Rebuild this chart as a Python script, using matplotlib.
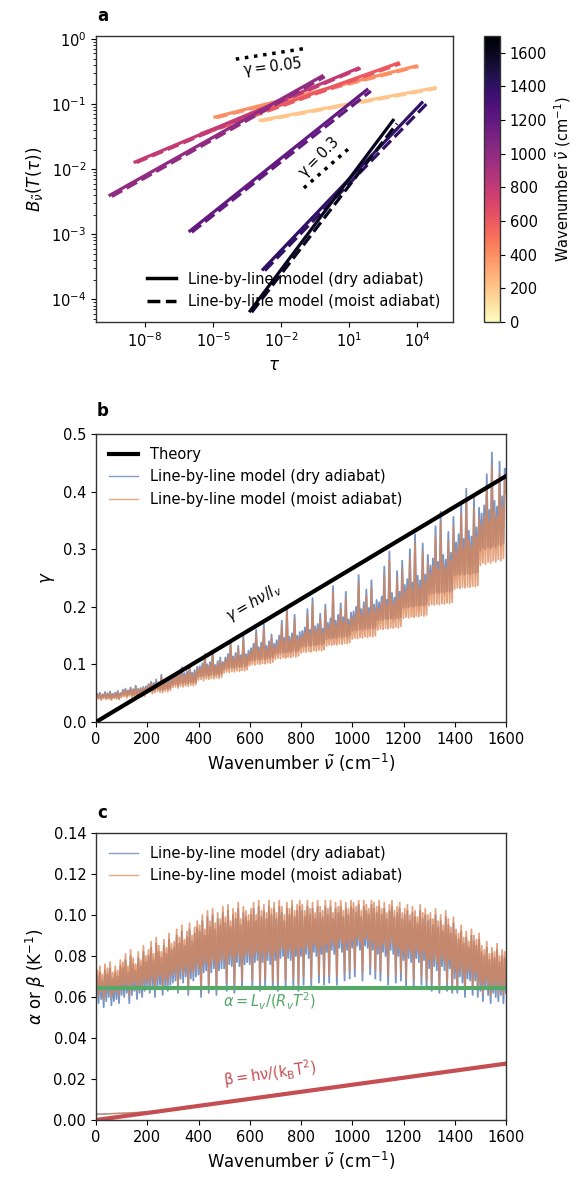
import numpy as np
import matplotlib
matplotlib.use('Agg')
import matplotlib.pyplot as plt
from matplotlib import colors, cm
from matplotlib.lines import Line2D
from matplotlib.ticker import NullLocator, LogLocator

# ---- panel a: B(T(tau)) for a few wavenumbers (log10 values, start / end)
nu_lines = [200, 400, 600, 800, 1000, 1200, 1400, 1600]
dry_logtau = [[-2.93, 4.78], [-4.92, 3.94], [-5.5, 3.15], [-8.44, 1.38],
              [-9.54, -0.2], [-6.02, 1.78], [-2.8, 4.2], [-3.37, 2.93]]
dry_logB = [[-1.25, -0.75], [-1.2, -0.415], [-1.45, -0.37], [-1.89, -0.45],
            [-2.4, -0.57], [-2.95, -0.78], [-3.54, -0.98], [-4.18, -1.25]]
moist_logtau = [[-2.88, 4.85], [-4.86, 4.05], [-5.42, 3.25], [-8.38, 1.5],
                [-9.46, -0.08], [-5.94, 1.95], [-2.72, 4.4], [-3.3, 3.1]]
moist_logB = [[-1.26, -0.76], [-1.21, -0.42], [-1.46, -0.38], [-1.9, -0.45],
              [-2.42, -0.58], [-2.97, -0.8], [-3.56, -1.0], [-4.2, -1.3]]
ref005_logtau = [-4.0, -1.04]
ref005_logB = [-0.31, -0.15]
ref03_logtau = [-1.0, 0.99]
ref03_logB = [-2.29, -1.68]

# ---- panels b, c: spectra every 5 cm-1 (values in thousandths)
nu = np.arange(0, 1601, 5)
gamma_dry = [
    41, 49, 42, 51, 40, 48, 43, 52, 41, 50, 42, 53, 40, 49, 43, 51, 42, 54, 41, 50,
    46, 56, 47, 58, 45, 55, 48, 60, 46, 57, 47, 63, 46, 58, 48, 59, 47, 61, 48, 62,
    54, 66, 56, 70, 53, 68, 55, 74, 57, 69, 56, 82, 55, 71, 58, 76, 57, 72, 59, 80,
    65, 82, 66, 86, 64, 84, 67, 95, 66, 85, 68, 88, 67, 98, 69, 86, 68, 90, 70, 96,
    79, 97, 80, 102, 78, 118, 81, 100, 80, 104, 82, 124, 81, 99, 83, 106, 82, 112, 84, 104,
    92, 112, 94, 118, 93, 140, 95, 114, 94, 120, 96, 132, 95, 116, 97, 150, 96, 118, 98, 124,
    106, 128, 108, 136, 107, 160, 109, 130, 108, 138, 110, 170, 109, 132, 111, 140, 110, 152, 112, 136,
    118, 142, 120, 150, 119, 176, 121, 146, 120, 200, 122, 148, 121, 154, 123, 186, 122, 150, 124, 156,
    130, 158, 132, 164, 131, 196, 133, 160, 132, 215, 134, 166, 133, 170, 135, 188, 134, 162, 136, 204,
    144, 172, 146, 180, 145, 236, 147, 176, 146, 186, 148, 206, 147, 182, 149, 226, 148, 178, 150, 190,
    158, 192, 160, 200, 159, 255, 161, 196, 160, 208, 162, 230, 161, 198, 163, 246, 162, 204, 164, 212,
    176, 208, 178, 218, 177, 270, 179, 212, 178, 296, 180, 224, 179, 216, 181, 262, 180, 226, 182, 280,
    198, 238, 200, 248, 199, 300, 201, 242, 200, 326, 202, 254, 201, 246, 203, 310, 202, 256, 204, 290,
    222, 272, 224, 284, 223, 340, 225, 278, 224, 365, 226, 290, 225, 282, 227, 330, 226, 294, 228, 356,
    254, 312, 256, 326, 255, 380, 257, 318, 256, 405, 258, 332, 257, 322, 259, 390, 258, 338, 260, 372,
    298, 362, 302, 376, 300, 430, 304, 368, 302, 468, 306, 384, 304, 374, 308, 452, 306, 392, 310, 440,
    420]
gamma_moist = [
    39, 47, 40, 49, 38, 46, 41, 50, 39, 48, 40, 51, 38, 47, 41, 49, 40, 52, 39, 48,
    43, 54, 44, 56, 42, 53, 45, 58, 43, 55, 44, 60, 43, 56, 45, 57, 44, 59, 45, 60,
    50, 63, 52, 67, 49, 65, 51, 71, 53, 66, 52, 78, 51, 68, 54, 73, 53, 69, 55, 77,
    60, 78, 61, 82, 59, 80, 62, 91, 61, 81, 63, 84, 62, 94, 64, 82, 63, 86, 65, 92,
    73, 93, 74, 98, 72, 113, 75, 96, 74, 100, 76, 119, 75, 95, 77, 102, 76, 107, 78, 100,
    85, 107, 87, 113, 86, 134, 88, 109, 87, 115, 89, 127, 88, 111, 90, 144, 89, 113, 91, 119,
    98, 122, 100, 130, 99, 153, 101, 124, 100, 132, 102, 163, 101, 126, 103, 134, 102, 145, 104, 130,
    109, 135, 111, 143, 110, 168, 112, 139, 111, 191, 113, 141, 112, 147, 114, 178, 113, 143, 115, 149,
    120, 150, 122, 156, 121, 187, 123, 152, 122, 205, 124, 158, 123, 162, 125, 179, 124, 154, 126, 195,
    132, 163, 134, 171, 133, 225, 135, 167, 134, 177, 136, 196, 135, 173, 137, 215, 136, 169, 138, 181,
    144, 182, 146, 190, 145, 242, 147, 186, 146, 198, 148, 219, 147, 188, 149, 234, 148, 194, 150, 202,
    160, 197, 162, 207, 161, 256, 163, 201, 162, 281, 164, 213, 163, 205, 165, 249, 164, 215, 166, 266,
    180, 225, 182, 235, 181, 285, 183, 229, 182, 310, 184, 241, 183, 233, 185, 295, 184, 243, 186, 276,
    202, 258, 204, 270, 203, 323, 205, 264, 204, 347, 206, 276, 205, 268, 207, 314, 206, 280, 208, 339,
    231, 296, 233, 310, 232, 361, 234, 302, 233, 385, 235, 316, 234, 306, 236, 371, 235, 322, 237, 354,
    272, 344, 276, 358, 274, 409, 278, 350, 276, 445, 280, 366, 278, 356, 282, 430, 280, 374, 284, 418,
    398]
ab_dry = [
    58, 70, 57, 72, 59, 68, 55, 73, 58, 71, 60, 74, 56, 69, 58, 72, 59, 70, 57, 75,
    61, 74, 60, 78, 62, 72, 57, 80, 61, 76, 63, 73, 59, 79, 62, 75, 60, 82, 63, 77,
    64, 80, 62, 84, 65, 78, 60, 86, 64, 82, 66, 79, 61, 85, 65, 81, 63, 88, 66, 83,
    67, 84, 68, 90, 62, 86, 69, 92, 67, 85, 70, 89, 61, 93, 69, 87, 68, 91, 70, 94,
    71, 92, 60, 97, 72, 90, 73, 99, 62, 94, 72, 100, 74, 93, 61, 98, 73, 95, 74, 101,
    74, 96, 63, 102, 76, 94, 75, 100, 62, 98, 77, 103, 75, 95, 64, 101, 76, 99, 77, 97,
    76, 100, 64, 103, 77, 97, 78, 104, 63, 99, 77, 102, 65, 98, 78, 104, 76, 100, 64, 103,
    78, 98, 63, 104, 79, 101, 80, 97, 64, 103, 79, 100, 78, 104, 65, 99, 80, 102, 63, 104,
    80, 102, 66, 99, 81, 104, 79, 100, 65, 103, 82, 98, 80, 104, 67, 101, 81, 99, 66, 104,
    82, 100, 67, 104, 83, 98, 81, 103, 66, 101, 84, 104, 82, 99, 68, 103, 83, 100, 69, 104,
    84, 103, 70, 101, 85, 105, 83, 99, 68, 104, 85, 102, 84, 100, 71, 105, 83, 103, 69, 101,
    81, 104, 68, 100, 82, 103, 80, 98, 66, 102, 83, 104, 81, 99, 67, 101, 80, 103, 68, 98,
    78, 100, 65, 102, 79, 97, 77, 101, 64, 99, 79, 96, 77, 102, 66, 98, 78, 100, 64, 97,
    74, 98, 63, 95, 75, 100, 73, 94, 62, 97, 75, 92, 73, 99, 63, 95, 74, 91, 62, 96,
    69, 90, 62, 88, 70, 92, 67, 86, 60, 89, 69, 84, 68, 90, 61, 87, 68, 85, 60, 88,
    63, 82, 58, 80, 64, 84, 61, 78, 57, 81, 62, 79, 60, 83, 58, 77, 61, 80, 57, 79,
    62]
ab_moist = [
    62, 73, 61, 75, 63, 71, 59, 76, 62, 74, 64, 77, 60, 72, 62, 75, 63, 73, 61, 78,
    65, 77, 64, 81, 66, 75, 61, 83, 65, 79, 67, 76, 63, 82, 66, 78, 64, 85, 67, 80,
    68, 83, 66, 87, 69, 81, 64, 89, 68, 85, 70, 82, 65, 88, 69, 84, 67, 91, 70, 86,
    71, 87, 72, 93, 66, 89, 73, 95, 71, 88, 74, 92, 65, 96, 73, 90, 72, 94, 74, 97,
    75, 95, 64, 100, 76, 93, 77, 102, 66, 97, 76, 103, 78, 96, 65, 101, 77, 98, 78, 104,
    78, 99, 67, 105, 80, 97, 79, 103, 66, 101, 81, 106, 79, 98, 68, 104, 80, 102, 81, 100,
    80, 103, 68, 106, 81, 100, 82, 107, 67, 102, 81, 105, 69, 101, 82, 107, 80, 103, 68, 106,
    82, 101, 67, 107, 83, 104, 84, 100, 68, 106, 83, 103, 82, 107, 69, 102, 84, 105, 67, 107,
    84, 105, 70, 102, 85, 107, 83, 103, 69, 106, 86, 101, 84, 107, 71, 104, 85, 102, 70, 107,
    86, 103, 71, 107, 87, 101, 85, 106, 70, 104, 88, 107, 86, 102, 72, 106, 87, 103, 73, 107,
    88, 106, 74, 104, 89, 107, 87, 102, 72, 107, 89, 105, 88, 103, 75, 107, 87, 106, 73, 104,
    85, 107, 72, 103, 86, 106, 84, 101, 70, 105, 87, 107, 85, 102, 71, 104, 84, 106, 72, 101,
    82, 103, 69, 105, 83, 100, 81, 104, 68, 102, 83, 99, 81, 105, 70, 101, 82, 103, 68, 100,
    78, 101, 67, 98, 79, 103, 77, 97, 66, 100, 79, 95, 77, 102, 67, 98, 78, 94, 66, 99,
    73, 93, 66, 91, 74, 95, 71, 89, 64, 92, 73, 87, 72, 93, 65, 90, 72, 88, 64, 91,
    67, 85, 62, 83, 68, 87, 65, 81, 61, 84, 66, 82, 64, 86, 62, 80, 65, 83, 61, 82,
    66]
theory_nu = [0, 1600]
gamma_theory = [0.0, 0.427]
alpha_theory = [0.0643, 0.0643]
beta_theory = [0.0, 0.0275]
beta_lbl_nu = [0, 100, 200, 300, 400, 1600]
beta_lbl = [0.0028, 0.0033, 0.0039, 0.0052, 0.0069, 0.0275]

blue = '#4c72b0'
orange = '#dd8452'
green = '#55a868'
red = '#c44e52'
lbl_dry = 'Line-by-line model (dry adiabat)'
lbl_moist = 'Line-by-line model (moist adiabat)'

plt.rcParams['font.family'] = 'DejaVu Sans'
plt.rcParams['font.size'] = 10.5
plt.rcParams['axes.labelsize'] = 12
plt.rcParams['axes.edgecolor'] = '.2'
plt.rcParams['axes.linewidth'] = 1.0
plt.rcParams['mathtext.fontset'] = 'dejavusans'

fig = plt.figure(figsize=(5.83, 11.77), dpi=100)
W, H = 583.0, 1177.0

def box(l, t, r, b):
    return [l / W, 1 - b / H, (r - l) / W, (b - t) / H]

# ---------------- a
ax = fig.add_axes(box(96, 36, 453, 322))
cmap = plt.get_cmap('magma_r')
norm = colors.Normalize(0, 1700)
for i, n in enumerate(nu_lines):
    c = cmap(norm(n))
    ax.plot(10 ** np.array(dry_logtau[i]), 10 ** np.array(dry_logB[i]),
            color=c, lw=2.3)
    ax.plot(10 ** np.array(moist_logtau[i]), 10 ** np.array(moist_logB[i]),
            color=c, lw=2.3, ls='--')
ax.plot(10 ** np.array(ref005_logtau), 10 ** np.array(ref005_logB), 'k:', lw=2.5)
ax.plot(10 ** np.array(ref03_logtau), 10 ** np.array(ref03_logB), 'k:', lw=2.5)
ax.text(10 ** -2.4, 10 ** -0.43, r'$\mathregular{\gamma = 0.05}$', rotation=7,
        ha='center', va='center')
ax.text(10 ** -0.33, 10 ** -1.82, r'$\mathregular{\gamma = 0.3}$', rotation=45,
        ha='center', va='center')
ax.set_xscale('log')
ax.set_yscale('log')
ax.set_xlim(10 ** -10.16, 10 ** 5.57)
ax.set_ylim(10 ** -4.35, 10 ** 0.046)
ax.set_xticks([1e-8, 1e-5, 1e-2, 1e1, 1e4])
ax.xaxis.set_minor_locator(NullLocator())
ax.yaxis.set_minor_locator(LogLocator(subs=np.arange(2, 10)))
ax.set_xlabel(r'$\tau$')
ax.set_ylabel(r'$B_{\tilde{\nu}}(T(\tau))$')
hl = [Line2D([], [], color='k', lw=2.5), Line2D([], [], color='k', lw=2.5, ls='--')]
ax.legend(hl, [lbl_dry, lbl_moist], loc='lower right', frameon=False)

cax = fig.add_axes(box(484, 36, 500, 322))
cb = fig.colorbar(cm.ScalarMappable(norm=norm, cmap=cmap), cax=cax)
cb.set_ticks(range(0, 1700, 200))
cb.set_label(r'Wavenumber $\tilde{\nu}$ (cm$^{-1}$)', fontsize=10.5)

# ---------------- b
ax = fig.add_axes(box(96, 434, 506, 722))
ax.plot(theory_nu, gamma_theory, color='k', lw=3, zorder=5)
ax.plot(nu, np.array(gamma_dry) / 1000, color=blue, lw=1.3, alpha=0.75)
ax.plot(nu, np.array(gamma_moist) / 1000, color=orange, lw=1.3, alpha=0.75)
ax.text(617, 0.208, r'$\gamma = h\nu/l_v$', rotation=30, ha='center', va='center')
ax.set_xlim(0, 1600)
ax.set_ylim(0, 0.5)
ax.set_xticks(range(0, 1601, 200))
ax.set_xlabel(r'Wavenumber $\tilde{\nu}$ (cm$^{-1}$)')
ax.set_ylabel(r'$\gamma$')
hb = [Line2D([], [], color='k', lw=3),
      Line2D([], [], color=blue, lw=1, alpha=0.7),
      Line2D([], [], color=orange, lw=1, alpha=0.7)]
ax.legend(hb, ['Theory', lbl_dry, lbl_moist], loc='upper left', frameon=False)

# ---------------- c
ax = fig.add_axes(box(96, 833, 506, 1120))
ax.plot(nu, np.array(ab_dry) / 1000, color=blue, lw=1.3, alpha=0.75)
ax.plot(nu, np.array(ab_moist) / 1000, color=orange, lw=1.3, alpha=0.75)
ax.plot(theory_nu, alpha_theory, color=green, lw=3)
ax.plot(beta_lbl_nu, beta_lbl, color=blue, lw=1, alpha=0.7)
ax.plot(beta_lbl_nu, beta_lbl, color=orange, lw=1, alpha=0.7)
ax.plot(theory_nu, beta_theory, color=red, lw=3)
ax.text(679, 0.0578, r'$\alpha = L_v/(R_vT^2)$', color=green, ha='center', va='center')
ax.text(679, 0.0225, r'$\mathregular{\beta = h\nu/(k_BT^2)}$', color=red, rotation=8,
        ha='center', va='center')
ax.set_xlim(0, 1600)
ax.set_ylim(0, 0.14)
ax.set_xticks(range(0, 1601, 200))
ax.set_yticks(np.arange(0, 0.141, 0.02))
ax.set_xlabel(r'Wavenumber $\tilde{\nu}$ (cm$^{-1}$)')
ax.set_ylabel(r'$\alpha$ or $\beta$ (K$^{-1}$)')
hc = [Line2D([], [], color=blue, lw=1, alpha=0.7),
      Line2D([], [], color=orange, lw=1, alpha=0.7)]
ax.legend(hc, [lbl_dry, lbl_moist], loc='upper left', frameon=False)

for lab, y in [('a', 16), ('b', 411), ('c', 813)]:
    fig.text(97 / W, 1 - y / H, lab, fontweight='bold', fontsize=12, va='center')

fig.savefig('out.png', dpi=100)
